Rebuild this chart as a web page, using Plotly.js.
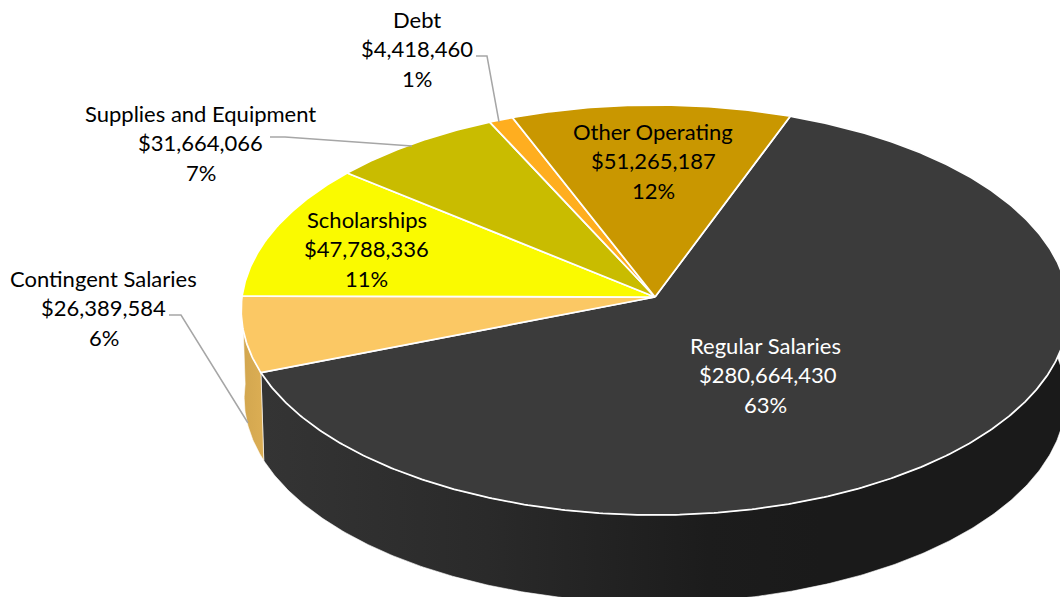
<!DOCTYPE html>
<html>
<head>
<meta charset="utf-8">
<script src="https://cdn.plot.ly/plotly-3.0.1.min.js"></script>
<style>html,body{margin:0;padding:0;background:#fff}#chart{width:1060px;height:597px}</style>
</head>
<body>
<div id="chart"></div>
<script>
// Data
const categories = ["Regular Salaries", "Contingent Salaries", "Scholarships", "Supplies and Equipment", "Debt", "Other Operating"];
const amounts = [280664430, 26389584, 47788336, 31664066, 4418460, 51265187];

// Style
const topColors = ["#3B3B3B", "#FBC864", "#FAFA00", "#C9BC00", "#FFAE1F", "#C99700"];
const textColors = ["#FFFFFF", "#000000", "#000000", "#000000", "#000000", "#000000"];
const FONT = "Lato, Carlito, sans-serif";
const FONT_SIZE = 22;

// Label layout: centre x of each of the three lines, and y of the first line
const labelX = [[765, 768, 765], [103.5, 103.5, 103.5], [366.5, 366.5, 366.5], [200.5, 200.5, 200.5], [417, 416.5, 417], [653, 653, 653]];
const labelY = [345, 278, 219, 113, 19, 131];
const LINE_STEP = 29.5;

// Leader lines (layout furniture)
const leaders = [
  {x: [476, 487, 499], y: [56, 56, 122]},
  {x: [270, 285, 412], y: [137, 137, 146]},
  {x: [169, 181, 248], y: [315, 315, 423]}
];

// Projection of the tilted disc, in pixel-valued axis units
const START_DEG = 20.3;
const PERSP = 0.0634;
const topDisc = {cx: 655, cy: 297, rx: 413, ry: 204.2};
const lowDisc = {cx: 655, cy: 385, rx: 410, ry: 204};
function project(d, deg) {
  const t = deg * Math.PI / 180, w = 1 + PERSP * Math.cos(t);
  return [d.cx + d.rx * Math.sin(t) / w, d.cy - d.ry * Math.cos(t) / w];
}
function arc(d, a, b) {
  const n = Math.max(2, Math.ceil(Math.abs(b - a) * 2)), pts = [];
  for (let i = 0; i <= n; i++) pts.push(project(d, a + (b - a) * i / n));
  return pts;
}

const total = amounts.reduce((s, v) => s + v, 0);
const angles = [];
let cum = START_DEG;
amounts.forEach(v => { const a = cum, b = cum + v / total * 360; angles.push([a, b]); cum = b; });

const traces = [];

// Side walls (only the front-facing slices show one)
function wall(a, b, gradient) {
  const up = arc(topDisc, a, b), low = arc(lowDisc, b, a);
  const pts = up.concat(low, [up[0]]);
  traces.push({
    type: "scatter", mode: "lines", hoverinfo: "skip", showlegend: false,
    x: pts.map(p => p[0]), y: pts.map(p => p[1]),
    line: {color: "rgba(255,255,255,0.8)", width: 0.75},
    fill: "toself", fillcolor: gradient.colorscale[0][1], fillgradient: gradient
  });
}
wall(angles[0][0], angles[0][1], {
  type: "horizontal", start: 265, stop: 820,
  colorscale: [[0, "#343434"], [0.4, "#2A2A2A"], [0.8, "#1C1C1C"], [1, "#1A1A1A"]]
});
wall(angles[1][0], Math.min(angles[1][1], 270.3), {
  type: "horizontal", start: 242, stop: 266,
  colorscale: [[0, "#D2A64E"], [1, "#DDAF55"]]
});

// Top faces
categories.forEach((name, i) => {
  const pts = [[topDisc.cx, topDisc.cy]].concat(arc(topDisc, angles[i][0], angles[i][1]), [[topDisc.cx, topDisc.cy]]);
  traces.push({
    type: "scatter", mode: "lines", name: name, hoverinfo: "name", showlegend: false,
    x: pts.map(p => p[0]), y: pts.map(p => p[1]),
    line: {color: "#FFFFFF", width: 1.75},
    fill: "toself", fillcolor: topColors[i]
  });
});

// Leader lines
leaders.forEach(l => traces.push({
  type: "scatter", mode: "lines", hoverinfo: "skip", showlegend: false,
  x: l.x, y: l.y, line: {color: "#A6A6A6", width: 1.5}
}));

// Labels: three lines each
const annotations = [];
categories.forEach((name, i) => {
  const lines = [name, "$" + amounts[i].toLocaleString("en-US"), Math.round(amounts[i] / total * 100) + "%"];
  lines.forEach((txt, j) => annotations.push({
    x: labelX[i][j], y: labelY[i] + j * LINE_STEP, xref: "x", yref: "y",
    text: txt, showarrow: false, xanchor: "center", yanchor: "middle",
    font: {family: FONT, size: FONT_SIZE, color: textColors[i]}
  }));
});

Plotly.newPlot("chart", traces, {
  width: 1060, height: 597,
  margin: {l: 0, r: 0, t: 0, b: 0},
  paper_bgcolor: "#FFFFFF", plot_bgcolor: "#FFFFFF",
  showlegend: false,
  xaxis: {range: [0, 1060], visible: false, fixedrange: true},
  yaxis: {range: [597, 0], visible: false, fixedrange: true},
  annotations: annotations
}, {displayModeBar: false, staticPlot: true});
</script>
</body>
</html>
